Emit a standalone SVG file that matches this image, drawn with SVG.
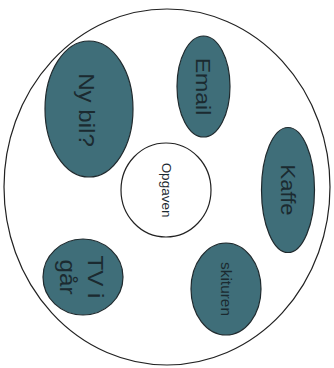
<svg xmlns="http://www.w3.org/2000/svg" width="334" height="368" viewBox="0 0 334 368">
<style>
.bubble{fill:#3f6e79;stroke:#1f2a2e;stroke-width:1.2}
.lbl{font-family:"Liberation Sans",Arial,sans-serif;fill:#1b2a30;text-anchor:middle;dominant-baseline:central}
</style>
<rect width="334" height="368" fill="#ffffff"/>
<g id="outer"><ellipse cx="167" cy="187" rx="163" ry="178" fill="none" stroke="#222" stroke-width="1.2"/></g>
<g id="opgaven"><ellipse cx="166" cy="190" rx="45" ry="47" fill="#fff" stroke="#222" stroke-width="1.2"/><text class="lbl" transform="translate(166,190) rotate(90) scale(1.08,1)" font-size="12.5" fill="#1a1a3a">Opgaven</text></g>
<g id="nybil"><ellipse class="bubble" cx="89" cy="109" rx="44" ry="68"/><text class="lbl" transform="translate(87,110) rotate(90) scale(1.12,1)" font-size="21.5">Ny bil?</text></g>
<g id="email"><ellipse class="bubble" cx="203.5" cy="86.5" rx="26.5" ry="50.5"/><text class="lbl" transform="translate(203.5,86.5) rotate(90) scale(1.1,1)" font-size="21">Email</text></g>
<g id="kaffe"><ellipse class="bubble" cx="288" cy="190" rx="26.5" ry="62.5"/><text class="lbl" transform="translate(288,190) rotate(90) scale(1.1,1)" font-size="20">Kaffe</text></g>
<g id="tv"><ellipse class="bubble" cx="83" cy="277" rx="40" ry="38"/><text class="lbl" transform="translate(82,277) rotate(90) scale(1.1,1)" font-size="22"><tspan x="0" y="-14">TV i</tspan><tspan x="0" y="14">går</tspan></text></g>
<g id="skituren"><ellipse class="bubble" cx="226" cy="289" rx="35" ry="46"/><text class="lbl" transform="translate(226,289) rotate(90) scale(1.1,1)" font-size="14">skituren</text></g>
<g id="connectors"></g>
</svg>
